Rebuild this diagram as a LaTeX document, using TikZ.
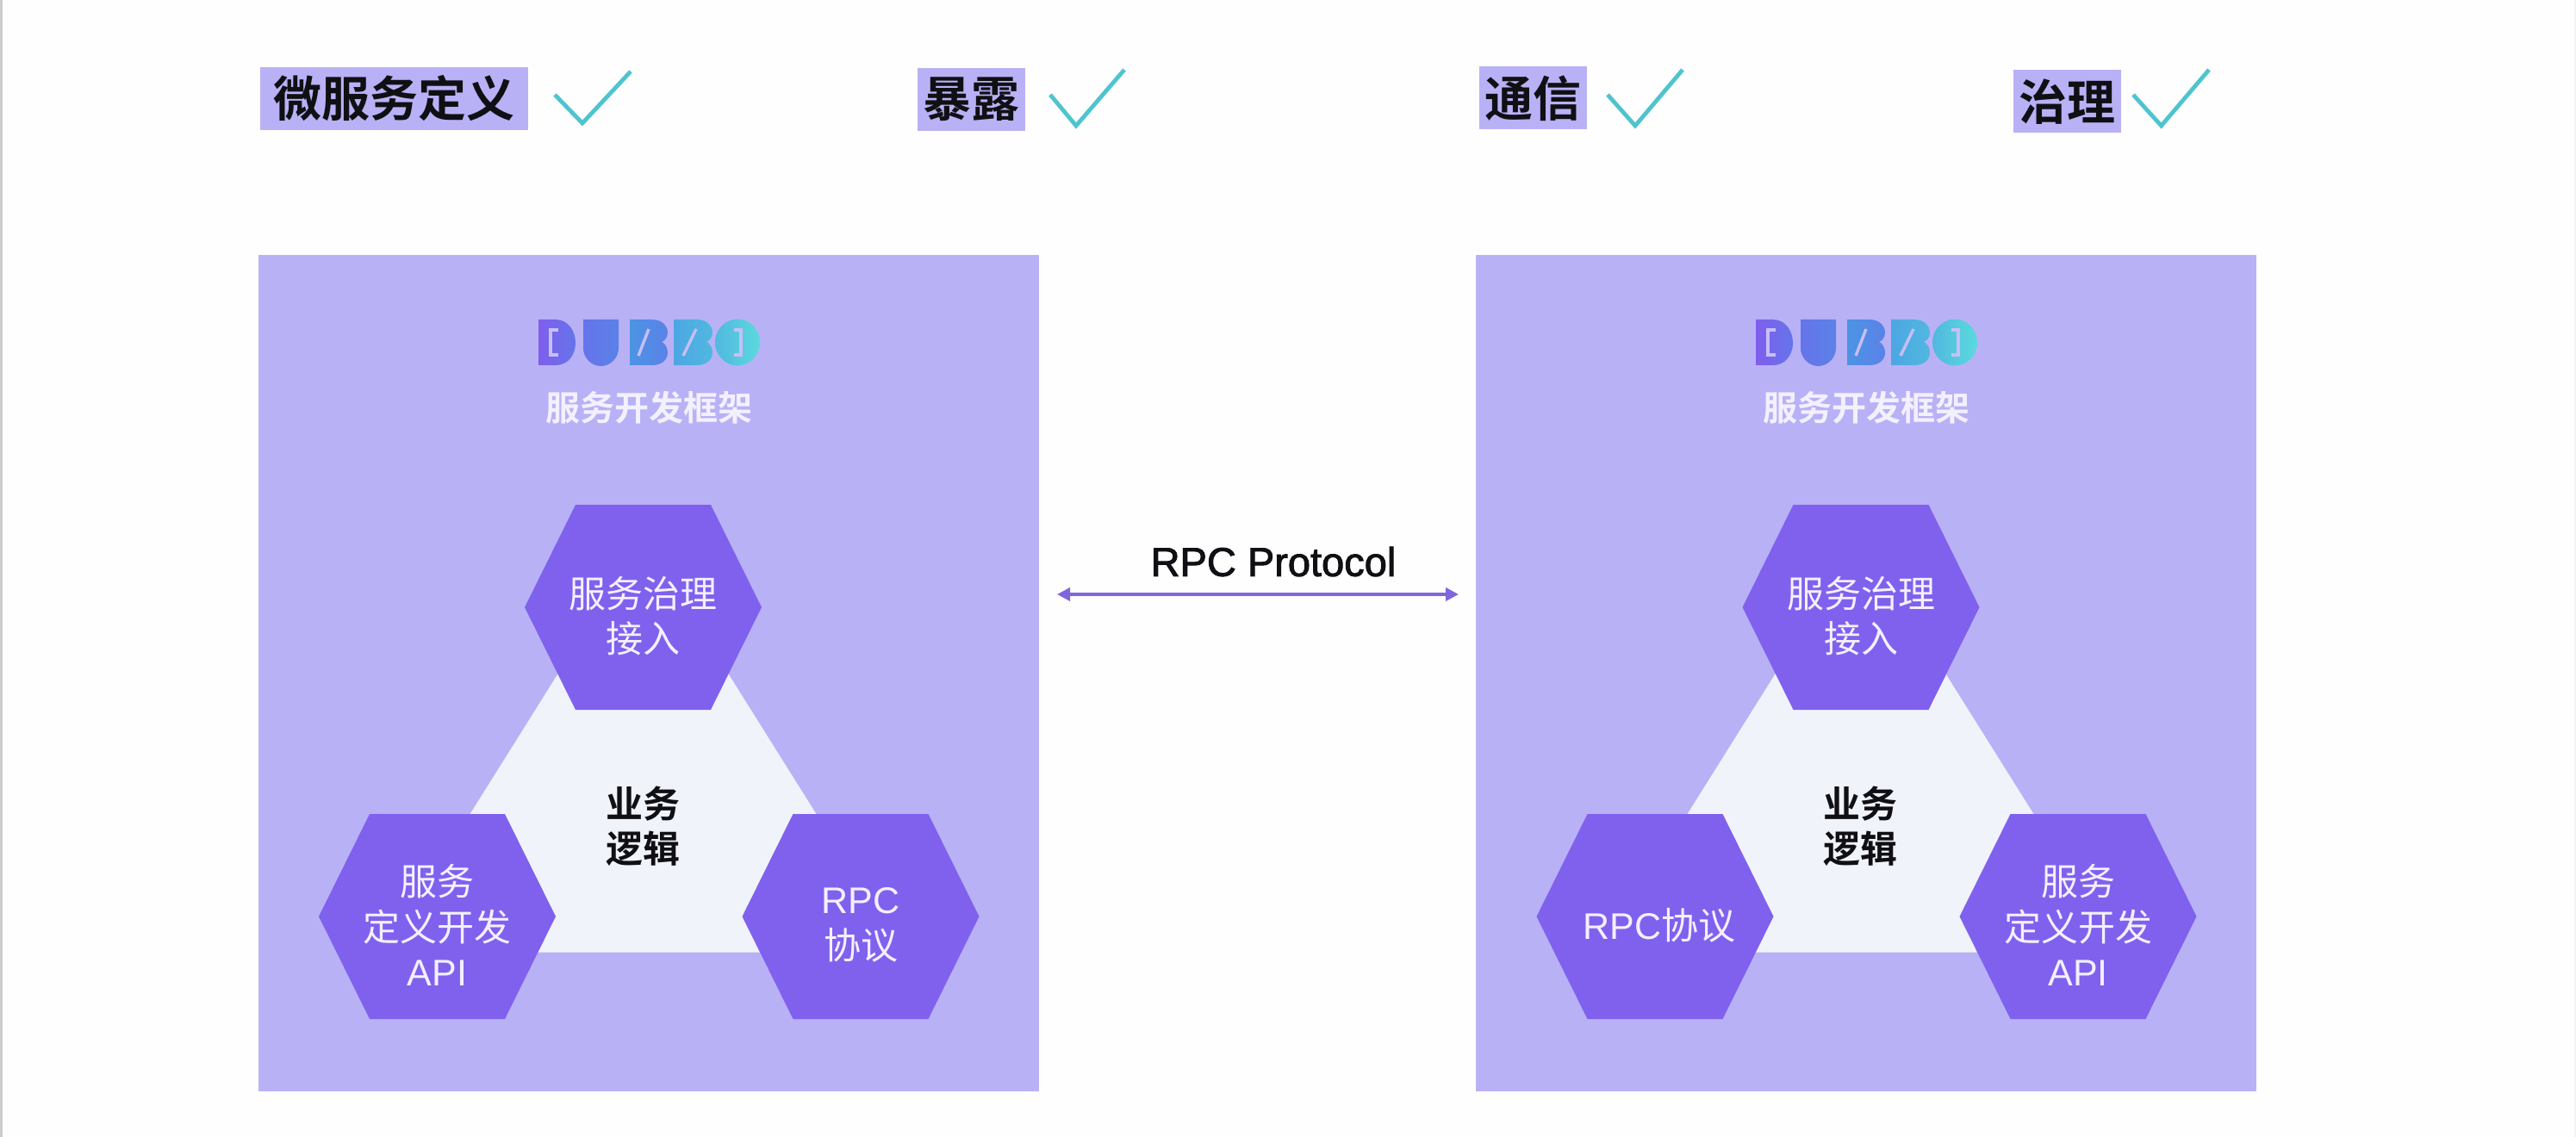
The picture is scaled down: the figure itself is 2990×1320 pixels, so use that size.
\documentclass[tikz,border=0pt]{standalone}
\usepackage{fontspec}
\setmainfont{Noto Sans CJK SC}
\newfontfamily\cjkreg{Noto Sans CJK SC}
\newfontfamily\cjkbold{Noto Sans CJK SC Bold}
\newfontfamily\latreg{Liberation Sans}
\newfontfamily\latmed[FakeBold=2]{Liberation Sans}
\newcommand{\lat}[1]{{\latreg #1}}
\definecolor{panelc}{HTML}{B9B1F6}
\definecolor{hexc}{HTML}{8061EE}
\definecolor{tric}{HTML}{F0F3F9}
\definecolor{checkc}{HTML}{4FC4CF}
\definecolor{arrowc}{HTML}{7F66DF}
\definecolor{hext}{HTML}{F3F0FF}
\definecolor{inkc}{HTML}{101014}
\definecolor{logoa}{HTML}{7E5FEC}
\definecolor{logob}{HTML}{6574EA}
\definecolor{logoc}{HTML}{5A82E8}
\definecolor{logod}{HTML}{4C94E4}
\definecolor{logoe}{HTML}{4DA6E2}
\definecolor{logof}{HTML}{50B8E0}
\definecolor{logog}{HTML}{5BDADC}
\definecolor{logol}{HTML}{C8BEF6}
\usetikzlibrary{arrows.meta}
\tikzset{
  x=0.5pt,y=-0.5pt,
  panelbox/.style={fill=panelc,inner sep=0pt,minimum width=453pt,minimum height=485.5pt},
  tagbox/.style={fill=panelc,inner sep=0pt,text=inkc,font=\cjkbold\fontsize{28}{32}\selectfont,minimum height=36.5pt},
  tickmark/.style={draw=checkc,line width=2.4pt,fill=none,line join=miter},
  hexfill/.style={fill=hexc},
  hextext/.style={text=hext,align=center,inner sep=0pt,font=\cjkreg\fontsize{21.5}{26.2}\selectfont},
  coretext/.style={text=inkc,align=center,inner sep=0pt,font=\cjkbold\fontsize{21.5}{26.2}\selectfont},
  frametext/.style={text=hext,inner sep=0pt,font=\cjkbold\fontsize{20}{24}\selectfont},
  logostroke/.style={draw=logol,line width=1.7pt,fill=none},
  link/.style={draw=arrowc,line width=2pt,{Stealth[length=7.5pt,width=7.5pt,inset=0pt]}-{Stealth[length=7.5pt,width=7.5pt,inset=0pt]}},
}
\newcommand{\hexcell}[5]{% name cx cy text-dy text
  \fill[hexfill] (#2-137.5,#3) -- (#2-78.5,#3-119) -- (#2+78.5,#3-119) -- (#2+137.5,#3) -- (#2+78.5,#3+119) -- (#2-78.5,#3+119) -- cycle;
  \node[hextext] (#1) at (#2,#3+#4) {#5};
}
\newcommand{\dubbologo}[1]{% x offset
  \begin{scope}[xshift=#1*0.5pt]
    % D
    \path[left color=logoa,right color=logob] (625,371) -- (645,371) .. controls (660,371) and (668,385) .. (668,398) .. controls (668,411) and (660,424) .. (645,424) -- (625,424) -- cycle;
    \draw[logostroke] (648,383) -- (639,383) -- (639,412) -- (648,412);
    % U
    \path[left color=logob,right color=logoc] (677,371) -- (718,371) -- (718,404) .. controls (718,416) and (708,425) .. (697.5,425) .. controls (687,425) and (677,416) .. (677,404) -- cycle;
    % B
    \path[left color=logod,right color=logoc] (731,371) -- (757,371) .. controls (770,371) and (775,380) .. (775,386) .. controls (775,392) and (771,396) .. (768,397) .. controls (771,398) and (775,403) .. (775,409) .. controls (775,417) and (769,424) .. (757,424) -- (731,424) -- cycle;
    \draw[logostroke] (741,413) -- (753,382);
    % B
    \path[left color=logoe,right color=logof] (782,371) -- (809,371) .. controls (822,371) and (827,380) .. (827,386) .. controls (827,392) and (823,396) .. (820,397) .. controls (823,398) and (827,403) .. (827,409) .. controls (827,417) and (821,424) .. (809,424) -- (782,424) -- cycle;
    \draw[logostroke] (793,413) -- (808,382);
    % O
    \path[left color=logof,right color=logog] (856,397.5) ellipse [x radius=26,y radius=27];
    \draw[logostroke] (852,383) -- (860,383) -- (860,412) -- (852,412);
  \end{scope}
}
\newcommand{\tierpanel}[2]{% prefix, x offset
  \node[panelbox] (#1panel) at (#2+753,781.5) {};
  \fill[tric] (#2+445,1105.5) -- (#2+746.5,624.5) -- (#2+1048,1105.5) -- cycle;
  \dubbologo{#2}
  \node[frametext] (#1frame) at (#2+753,473) {服务开发框架};
  \node[coretext] (#1core) at (#2+746,959) {业务\\逻辑};
}
\begin{document}
\begin{tikzpicture}
\useasboundingbox (0,0) rectangle (2990,1320);
\fill[white!99.5!black] (0,0) rectangle (2990,1320);
\fill[black!20] (0,0) rectangle (2.5,1320);
\fill[black!5] (2988,0) rectangle (2990,1320);

% top tags
\node[tagbox,minimum width=155.5pt] (tagA) at (457,114.5) {微服务定义};
\draw[tickmark] (644,110) -- (676,143) -- (732,83);
\node[tagbox,minimum width=62.5pt] (tagB) at (1127.5,115.5) {暴露};
\draw[tickmark] (1219,110) -- (1249,146) -- (1305,81);
\node[tagbox,minimum width=62.5pt] (tagC) at (1779,114) {通信};
\draw[tickmark] (1866,110) -- (1898,146) -- (1953,81);
\node[tagbox,minimum width=62.5pt] (tagD) at (2399,118) {治理};
\draw[tickmark] (2476,110) -- (2508.6,146) -- (2564,81);

% left panel
\tierpanel{L}{0}
\hexcell{Lgov}{746.5}{705}{10}{服务治理\\接入}
\hexcell{Lapi}{507.5}{1064}{10}{服务\\定义开发\\\lat{API}}
\hexcell{Lrpc}{999}{1064}{10}{\lat{RPC}\\协议}

% right panel
\tierpanel{R}{1413}
\hexcell{Rgov}{2160}{705}{10}{服务治理\\接入}
\hexcell{Rrpc}{1921}{1064}{10}{\hspace*{5pt}\lat{RPC}协议}
\hexcell{Rapi}{2412}{1064}{10}{服务\\定义开发\\\lat{API}}

% RPC link
\node[text=inkc,inner sep=0pt,font=\latmed\fontsize{23.5}{28}\selectfont] (proto) at (1478,652) {RPC Protocol};
\coordinate (linkL) at (1227,690);
\coordinate (linkR) at (1693,690);
\draw[link] (linkL) -- (linkR);
\end{tikzpicture}
\end{document}
